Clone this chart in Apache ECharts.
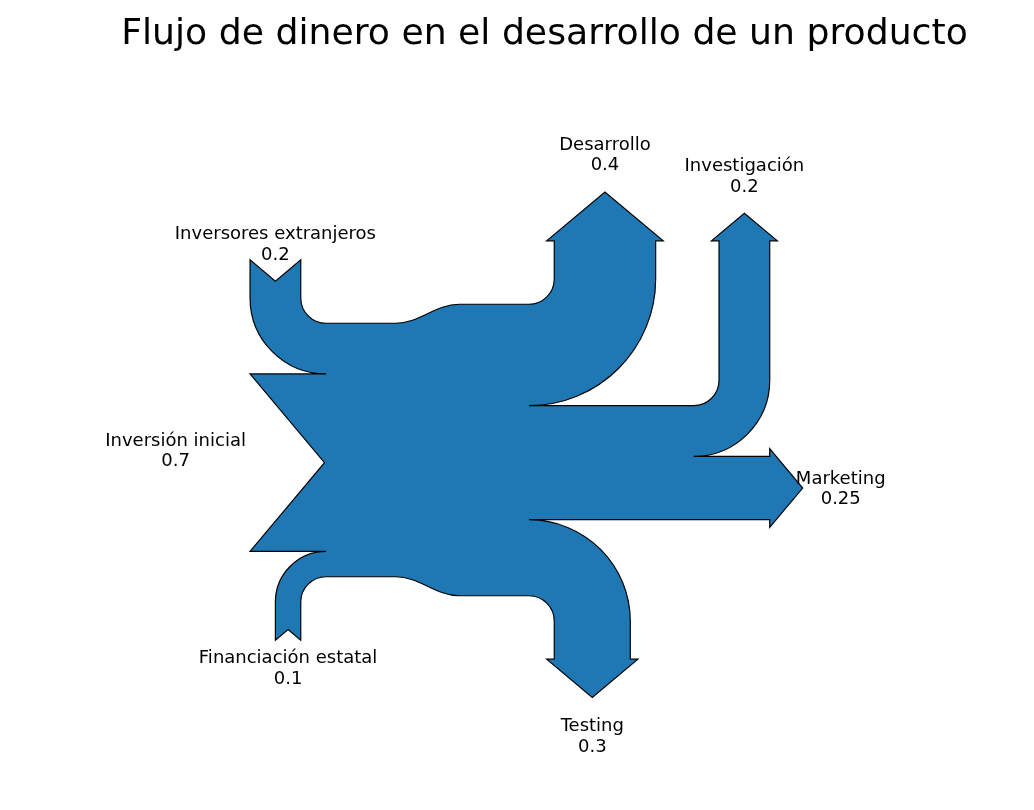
<!DOCTYPE html>
<html>
<head>
<meta charset="utf-8">
<script src="https://cdn.jsdelivr.net/npm/echarts@6/dist/echarts.min.js"></script>
<style>
html,body{margin:0;padding:0;background:#fff;}
#chart{width:1034px;height:810px;}
</style>
</head>
<body>
<div id="chart"></div>
<script>
// ---------------- data ----------------
const chartTitle = 'Flujo de dinero en el desarrollo de un producto';
const labels = ['Inversión inicial', 'Inversores extranjeros', 'Financiación estatal',
                'Desarrollo', 'Investigación', 'Marketing', 'Testing'];
const flows = [0.7, 0.2, 0.1, -0.4, -0.2, -0.25, -0.3];
const orientations = [0, 1, -1, 1, 1, 0, -1];

// ---------------- sankey geometry (matplotlib-style) ----------------
const RIGHT = 0, UP = 1, DOWN = 3;
const P = {scale: 1, gap: 0.25, radius: 0.1, shoulder: 0.03, offset: 0.15,
           headAngle: 100, trunk: 1, pathlength: 0.25};
const pitch = Math.tan(Math.PI * (1 - P.headAngle / 180) / 2);

const ARC = [[1, 0], [1, 0.265114773], [0.894571235, 0.519642327],
             [0.707106781, 0.707106781], [0.519642327, 0.894571235],
             [0.265114773, 1], [0, 1]];
const ARC_CODES = ['L', 'C', 'C', 'C', 'C', 'C', 'C'];

function arc(quadrant, cw, radius, center) {
  let verts;
  if (quadrant === 0 || quadrant === 2) {
    verts = cw ? ARC.map(p => [p[0], p[1]]) : ARC.map(p => [p[1], p[0]]);
  } else {
    verts = cw ? ARC.map(p => [-p[1], p[0]]) : ARC.map(p => [-p[0], p[1]]);
  }
  if (quadrant > 1) radius = -radius;
  return verts.map((v, i) => [ARC_CODES[i], radius * v[0] + center[0], radius * v[1] + center[1]]);
}

function addInput(path, angle, flow, length) {
  const last = path[path.length - 1];
  let x = last[1], y = last[2];
  const dipdepth = (flow / 2) * pitch;
  let dip, lab;
  if (angle === RIGHT) {
    x -= length;
    dip = [x + dipdepth, y + flow / 2];
    path.push(['L', x, y], ['L', dip[0], dip[1]], ['L', x, y + flow], ['L', x + P.gap, y + flow]);
    lab = [x - dipdepth, dip[1] + 0.05];
  } else {
    x -= P.gap;
    const sign = angle === UP ? 1 : -1;
    dip = [x - flow / 2, y - sign * (length - dipdepth)];
    const quadrant = angle === DOWN ? 2 : 1;
    path.push(...arc(quadrant, angle === UP, P.radius, [x + P.radius, y - sign * P.radius]));
    path.push(['L', x, y - sign * length], ['L', dip[0], dip[1]], ['L', x - flow, y - sign * length]);
    path.push(...arc(quadrant, angle === DOWN, flow + P.radius, [x + P.radius, y - sign * P.radius]));
    path.push(['L', x - flow, y + sign * flow]);
    lab = [dip[0], dip[1] - sign * P.offset];
  }
  return lab;
}

function addOutput(path, angle, flow, length) {
  const last = path[path.length - 1];
  let x = last[1], y = last[2];
  const tipheight = (P.shoulder - flow / 2) * pitch;
  let tip, lab;
  if (angle === RIGHT) {
    x += length;
    tip = [x + tipheight, y + flow / 2];
    path.push(['L', x, y], ['L', x, y + P.shoulder], ['L', tip[0], tip[1]],
              ['L', x, y - P.shoulder + flow], ['L', x, y + flow], ['L', x - P.gap, y + flow]);
    lab = [tip[0] + P.offset, tip[1]];
  } else {
    x += P.gap;
    let sign, quadrant;
    if (angle === UP) { sign = 1; quadrant = 3; } else { sign = -1; quadrant = 0; }
    tip = [x - flow / 2, y + sign * (length + tipheight)];
    path.push(...arc(quadrant, angle === UP, P.radius, [x - P.radius, y + sign * P.radius]));
    path.push(['L', x, y + sign * length], ['L', x - P.shoulder, y + sign * length],
              ['L', tip[0], tip[1]], ['L', x + P.shoulder - flow, y + sign * length],
              ['L', x - flow, y + sign * length]);
    path.push(...arc(quadrant, angle === DOWN, P.radius - flow, [x - P.radius, y + sign * P.radius]));
    path.push(['L', x - flow, y + sign * flow]);
    lab = [tip[0], tip[1] + sign * P.offset];
  }
  return lab;
}

function revert(path) {
  const out = [];
  let next = 'L';
  for (let i = path.length - 1; i >= 0; i--) {
    out.push([next, path[i][1], path[i][2]]);
    next = path[i][0];
  }
  return out;
}

function buildSankey() {
  const n = flows.length;
  const sf = flows.map(f => f * P.scale);
  const gain = sf.filter(f => f > 0).reduce((a, b) => a + b, 0);
  const loss = sf.filter(f => f < 0).reduce((a, b) => a + b, 0);
  const isIn = sf.map(f => f >= 1e-6 ? true : (f <= -1e-6 ? false : null));
  const angles = orientations.map((o, i) => {
    const inp = isIn[i];
    if (inp === null) return null;
    if (o === 1) return inp ? DOWN : UP;
    if (o === 0) return RIGHT;
    return inp ? UP : DOWN;
  });
  const pl = angles.map(() => 0);
  let ul = P.pathlength, ur = P.pathlength, ll = P.pathlength, lr = P.pathlength;
  for (let i = 0; i < n; i++) {
    if (angles[i] === DOWN && isIn[i]) { pl[i] = ul; ul += sf[i]; }
    else if (angles[i] === UP && isIn[i] === false) { pl[i] = ur; ur -= sf[i]; }
  }
  for (let i = n - 1; i >= 0; i--) {
    if (angles[i] === UP && isIn[i]) { pl[i] = ll; ll += sf[i]; }
    else if (angles[i] === DOWN && isIn[i] === false) { pl[i] = lr; lr -= sf[i]; }
  }
  const g = P.gap, t = P.trunk;
  const urpath = [['M', g - t / 2, gain / 2], ['L', (g - t / 2) / 2, gain / 2],
                  ['C', (g - t / 2) / 8, gain / 2], ['C', (t / 2 - g) / 8, -loss / 2],
                  ['L', (t / 2 - g) / 2, -loss / 2], ['L', t / 2 - g, -loss / 2]];
  const llpath = [['L', t / 2 - g, loss / 2], ['L', (t / 2 - g) / 2, loss / 2],
                  ['C', (t / 2 - g) / 8, loss / 2], ['C', (g - t / 2) / 8, -gain / 2],
                  ['L', (g - t / 2) / 2, -gain / 2], ['L', g - t / 2, -gain / 2]];
  const lrpath = [['L', t / 2 - g, loss / 2]];
  const ulpath = [['L', g - t / 2, gain / 2]];
  const labLoc = new Array(n).fill(null);

  for (let i = 0; i < n; i++) {
    if (angles[i] === DOWN && isIn[i]) labLoc[i] = addInput(ulpath, angles[i], sf[i], pl[i]);
    else if (angles[i] === UP && isIn[i] === false) labLoc[i] = addOutput(urpath, angles[i], sf[i], pl[i]);
  }
  for (let i = n - 1; i >= 0; i--) {
    if (angles[i] === UP && isIn[i]) labLoc[i] = addInput(llpath, angles[i], sf[i], pl[i]);
    else if (angles[i] === DOWN && isIn[i] === false) labLoc[i] = addOutput(lrpath, angles[i], sf[i], pl[i]);
  }
  let hasLeft = false;
  for (let i = n - 1; i >= 0; i--) {
    if (angles[i] === RIGHT && isIn[i]) {
      if (!hasLeft) {
        const a = llpath[llpath.length - 1], b = ulpath[ulpath.length - 1];
        if (a[1] > b[1]) llpath.push(['L', b[1], a[2]]);
        hasLeft = true;
      }
      labLoc[i] = addInput(llpath, angles[i], sf[i], pl[i]);
    }
  }
  let hasRight = false;
  for (let i = 0; i < n; i++) {
    if (angles[i] === RIGHT && isIn[i] === false) {
      if (!hasRight) {
        const a = urpath[urpath.length - 1], b = lrpath[lrpath.length - 1];
        if (a[1] < b[1]) urpath.push(['L', b[1], a[2]]);
        hasRight = true;
      }
      labLoc[i] = addOutput(urpath, angles[i], sf[i], pl[i]);
    }
  }
  if (!hasLeft) { ulpath.pop(); llpath.pop(); }
  if (!hasRight) { lrpath.pop(); urpath.pop(); }
  const path = urpath.concat(revert(lrpath), llpath, revert(ulpath));
  return {path, labLoc};
}

const sankey = buildSankey();
const labelItems = labels.map((name, i) => ({
  name: name + '\n' + String(Math.abs(flows[i])),
  value: sankey.labLoc[i]
}));

// ---------------- view (layout only) ----------------
const PXU = 253.5, OX = 427.5, OY = 450, W = 1034, H = 810;
const X_MIN = -OX / PXU, X_MAX = (W - OX) / PXU;
const Y_MAX = OY / PXU, Y_MIN = (OY - H) / PXU;

const chart = echarts.init(document.getElementById('chart'), null, {renderer: 'canvas'});
chart.setOption({
  animation: false,
  backgroundColor: '#ffffff',
  graphic: [{
    type: 'text', x: 544.5, y: 34.5, z: 10,
    style: {text: chartTitle, fontSize: 36.2, fontFamily: 'DejaVu Sans', fill: '#000',
            align: 'center', verticalAlign: 'middle'}
  }],
  grid: {left: 0, right: 0, top: 0, bottom: 0, containLabel: false},
  xAxis: {type: 'value', min: X_MIN, max: X_MAX, show: false},
  yAxis: {type: 'value', min: Y_MIN, max: Y_MAX, show: false},
  series: [
    {
      type: 'custom', coordinateSystem: 'cartesian2d', clip: false, silent: true,
      data: [[0, 0]],
      renderItem: function (params, api) {
        const pts = sankey.path;
        let d = '';
        let i = 0;
        while (i < pts.length) {
          const c = pts[i][0];
          if (c === 'C') {
            const p1 = api.coord([pts[i][1], pts[i][2]]);
            const p2 = api.coord([pts[i + 1][1], pts[i + 1][2]]);
            const p3 = api.coord([pts[i + 2][1], pts[i + 2][2]]);
            d += 'C' + p1[0] + ' ' + p1[1] + ' ' + p2[0] + ' ' + p2[1] + ' ' + p3[0] + ' ' + p3[1] + ' ';
            i += 3;
          } else {
            const p = api.coord([pts[i][1], pts[i][2]]);
            d += (c === 'M' ? 'M' : 'L') + p[0] + ' ' + p[1] + ' ';
            i += 1;
          }
        }
        d += 'Z';
        return {
          type: 'path',
          shape: {pathData: d},
          style: {fill: '#1f77b4', stroke: '#000000', lineWidth: 1.2, lineJoin: 'miter'}
        };
      }
    },
    {
      type: 'custom', coordinateSystem: 'cartesian2d', clip: false, silent: true,
      data: labelItems,
      encode: {x: 0, y: 1},
      renderItem: function (params, api) {
        const p = api.coord([api.value(0), api.value(1)]);
        return {
          type: 'text', x: p[0], y: p[1] + 1.5, z2: 10,
          style: {text: labelItems[params.dataIndex].name, fontSize: 18, fontFamily: 'DejaVu Sans',
                  fill: '#000', align: 'center', verticalAlign: 'middle', lineHeight: 20.5}
        };
      }
    }
  ]
});
</script>
</body>
</html>
